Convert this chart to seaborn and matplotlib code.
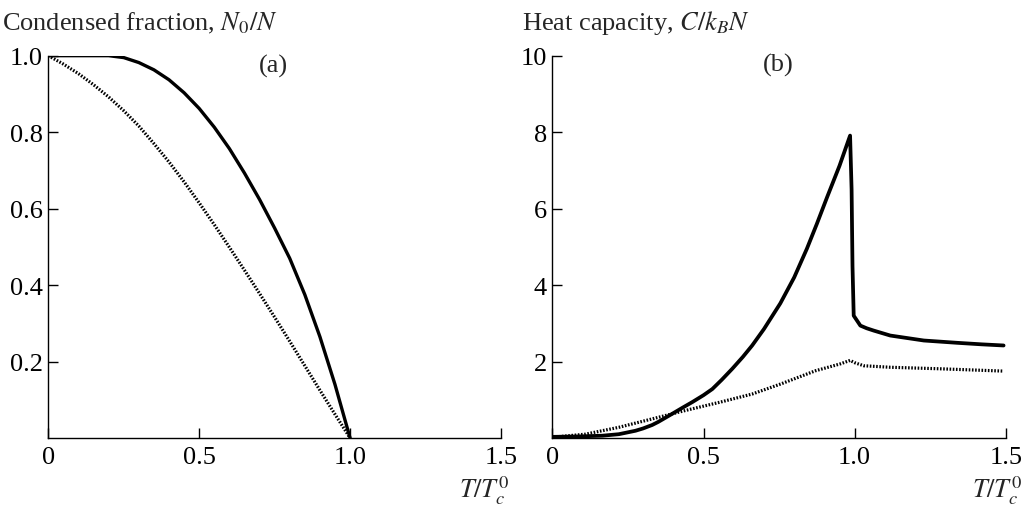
import matplotlib
matplotlib.use("Agg")
import matplotlib.pyplot as plt
import seaborn as sns

# ---- data ----
T_frac_solid = [0.0, 0.10, 0.20, 0.25, 0.30, 0.35, 0.40, 0.45, 0.50, 0.55, 0.60, 0.65,
                0.70, 0.75, 0.80, 0.85, 0.90, 0.95, 1.0]
N0_solid = [1.0, 1.0, 1.0, 0.995, 0.982, 0.963, 0.937, 0.903, 0.862, 0.813, 0.757, 0.693,
            0.624, 0.549, 0.470, 0.375, 0.265, 0.140, 0.0]

T_frac_dotted = [0.0, 0.05, 0.10, 0.15, 0.20, 0.25, 0.30, 0.35, 0.40, 0.45, 0.50, 0.55,
                 0.60, 0.65, 0.70, 0.75, 0.80, 0.85, 0.90, 0.95, 1.0]
N0_dotted = [1.0, 0.978, 0.953, 0.924, 0.892, 0.856, 0.816, 0.770, 0.722, 0.670, 0.615, 0.558,
             0.499, 0.439, 0.378, 0.316, 0.253, 0.189, 0.125, 0.062, 0.0]

T_heat_solid = [0.0, 0.08, 0.165, 0.22, 0.275, 0.30, 0.33, 0.35, 0.374, 0.40, 0.43, 0.463,
                0.50, 0.529, 0.56, 0.595, 0.63, 0.661, 0.70, 0.754, 0.80, 0.842, 0.875,
                0.909, 0.95, 0.985, 0.990, 0.993, 0.997, 1.019, 1.04, 1.063, 1.118,
                1.229, 1.339, 1.42, 1.493]
C_solid = [0.03, 0.04, 0.06, 0.10, 0.19, 0.25, 0.34, 0.42, 0.53, 0.65, 0.79, 0.94,
           1.12, 1.28, 1.52, 1.81, 2.12, 2.42, 2.85, 3.52, 4.20, 4.95, 5.60,
           6.30, 7.12, 7.91, 6.5, 4.5, 3.2, 2.94, 2.87, 2.81, 2.68,
           2.55, 2.49, 2.45, 2.42]

T_heat_dotted = [0.0, 0.109, 0.22, 0.33, 0.44, 0.551, 0.661, 0.758, 0.871, 0.953,
                 0.985, 1.00, 1.03, 1.118, 1.284, 1.493]
C_dotted = [0.02, 0.10, 0.28, 0.50, 0.72, 0.93, 1.15, 1.42, 1.76, 1.94,
            2.03, 1.97, 1.89, 1.85, 1.81, 1.75]

x_ticks = [0, 0.5, 1.0, 1.5]
x_ticklabels = ["0", "0.5", "1.0", "1.5"]
yl_ticks = [0.2, 0.4, 0.6, 0.8, 1.0]
yl_ticklabels = ["0.2", "0.4", "0.6", "0.8", "1.0"]
yr_ticks = [2, 4, 6, 8, 10]
yr_ticklabels = ["2", "4", "6", "8", "10"]

sns.set_style("ticks")
plt.rcParams["font.family"] = ["Liberation Serif", "DejaVu Serif"]
plt.rcParams["mathtext.fontset"] = "stix"
FS = 19

fig = plt.figure(figsize=(10.23, 5.06), dpi=100)
axL = fig.add_axes([0.0472, 0.1324, 0.4425, 0.7556])
axR = fig.add_axes([0.540, 0.1324, 0.4431, 0.7556])

DOT = (0, (0.5, 0.5))
sns.lineplot(x=T_frac_solid, y=N0_solid, ax=axL, color="black", linewidth=2.4, sort=False)
sns.lineplot(x=T_frac_dotted, y=N0_dotted, ax=axL, color="black", linewidth=2.3,
             linestyle=DOT, sort=False)
sns.lineplot(x=T_heat_solid, y=C_solid, ax=axR, color="black", linewidth=2.7, sort=False)
sns.lineplot(x=T_heat_dotted, y=C_dotted, ax=axR, color="black", linewidth=2.3,
             linestyle=DOT, sort=False)

for ax, yt, ytl, ylim in [(axL, yl_ticks, yl_ticklabels, (0, 1.0)),
                          (axR, yr_ticks, yr_ticklabels, (0, 10))]:
    ax.set_xlim(0, 1.5)
    ax.set_ylim(*ylim)
    ax.set_xticks(x_ticks)
    ax.set_xticklabels(x_ticklabels)
    ax.set_yticks(yt)
    ax.set_yticklabels(ytl)
    ax.tick_params(direction="in", length=7, width=1, labelsize=FS, colors="black")
    ax.tick_params(axis="x", pad=6)
    ax.tick_params(axis="y", pad=4)
    for s in ["top", "right"]:
        ax.spines[s].set_visible(False)
    for s in ["left", "bottom"]:
        ax.spines[s].set_linewidth(1.0)
        ax.spines[s].set_color("black")
    ax.set_xlabel("")
    ax.set_ylabel("")

axL.text(0.745, 0.975, "(a)", fontsize=FS, ha="center", va="center")
axR.text(0.747, 9.76, "(b)", fontsize=FS, ha="center", va="center")

fig.text(0.002, 0.94, "Condensed fraction, $N_0/N$", fontsize=FS, ha="left", va="baseline")
fig.text(0.510, 0.94, "Heat capacity, $C/k_BN$", fontsize=FS, ha="left", va="baseline")
fig.text(0.4985, 0.016, "$T/T_c^0$", fontsize=FS, ha="right", va="baseline")
fig.text(0.9995, 0.016, "$T/T_c^0$", fontsize=FS, ha="right", va="baseline")

fig.savefig("out.png", dpi=100)
